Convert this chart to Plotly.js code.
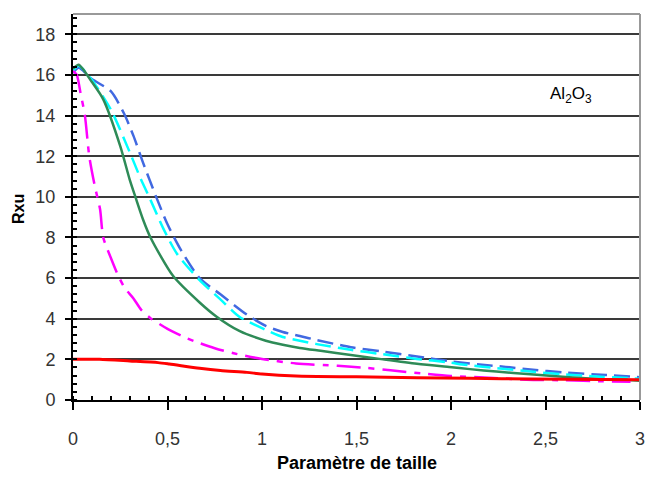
<!DOCTYPE html>
<html>
<head>
<meta charset="utf-8">
<script src="https://cdn.plot.ly/plotly-3.0.1.min.js"></script>
<style>html,body{margin:0;padding:0;background:#fff;}#chart{width:649px;height:477px;}</style>
</head>
<body>
<div id="chart"></div>
<script>
// Series data
const blueX = [0, 0.03, 0.1, 0.2, 0.27, 0.32, 0.37, 0.44, 0.5, 0.57, 0.67, 0.78, 0.92, 1.02, 1.11, 1.2, 1.29, 1.47, 1.64, 1.82, 2.0, 2.15, 2.29, 2.42, 2.59, 2.82, 3.0];
const blueY = [16.1, 16.35, 15.8, 15.2, 14.1, 13.0, 11.7, 10.0, 8.65, 7.4, 6.0, 5.2, 4.2, 3.65, 3.35, 3.15, 2.95, 2.6, 2.38, 2.14, 1.9, 1.75, 1.63, 1.5, 1.36, 1.23, 1.12];

const cyanX = [0, 0.03, 0.1, 0.2, 0.3, 0.36, 0.41, 0.48, 0.55, 0.67, 0.78, 0.88, 1.02, 1.11, 1.2, 1.29, 1.47, 1.64, 1.82, 1.99, 2.06, 2.24, 2.42, 2.59, 2.77, 3.0];
const cyanY = [16.2, 16.45, 15.75, 14.3, 12.2, 10.85, 9.85, 8.4, 7.2, 5.9, 4.95, 4.1, 3.45, 3.1, 2.92, 2.75, 2.47, 2.25, 2.02, 1.85, 1.75, 1.57, 1.4, 1.27, 1.16, 1.05];

const greenX = [0, 0.03, 0.1, 0.16, 0.25, 0.3, 0.33, 0.37, 0.41, 0.53, 0.67, 0.76, 0.88, 1.02, 1.11, 1.2, 1.31, 1.47, 1.64, 1.82, 1.99, 2.1, 2.24, 2.42, 2.59, 2.77, 3.0];
const greenY = [16.3, 16.5, 15.65, 14.8, 12.5, 10.85, 10.0, 8.9, 8.0, 6.1, 4.8, 4.1, 3.4, 2.92, 2.72, 2.56, 2.42, 2.22, 2.0, 1.78, 1.62, 1.52, 1.4, 1.27, 1.14, 1.03, 0.95];

const magentaX = [0, 0.02, 0.04, 0.063, 0.086, 0.116, 0.143, 0.16, 0.2, 0.24, 0.275, 0.32, 0.36, 0.41, 0.5, 0.6, 0.67, 0.75, 0.85, 1.0, 1.18, 1.4, 1.55, 1.68, 1.85, 2.0, 2.2, 2.4, 2.6, 2.8, 2.95];
const magentaY = [16.2, 16.0, 15.1, 14.0, 12.0, 10.5, 9.4, 8.0, 7.0, 6.1, 5.5, 5.0, 4.45, 4.03, 3.5, 3.05, 2.8, 2.55, 2.3, 2.02, 1.8, 1.68, 1.58, 1.46, 1.3, 1.18, 1.1, 1.0, 0.97, 0.92, 0.9];

const redX = [0, 0.14, 0.3, 0.45, 0.51, 0.67, 0.78, 0.92, 1.0, 1.18, 1.5, 1.82, 2.1, 2.42, 3.0];
const redY = [2.0, 2.0, 1.92, 1.84, 1.77, 1.56, 1.45, 1.36, 1.28, 1.18, 1.14, 1.1, 1.07, 1.03, 1.0];

const xTicks = [0, 0.5, 1, 1.5, 2, 2.5, 3];
const yTicks = [0, 2, 4, 6, 8, 10, 12, 14, 16, 18];
const xTitle = 'Paramètre de taille';
const yTitle = 'Rxu';
const label = 'Al<sub>2</sub>O<sub>3</sub>';

const tickFont = {family: 'Liberation Sans, Arial, sans-serif', size: 18, color: '#333'};
const sm = 0.7;

const traces = [
  {x: blueX, y: blueY, mode: 'lines', line: {color: '#4169E1', width: 2.5, dash: '16px,7px', shape: 'spline', smoothing: sm}},
  {x: cyanX, y: cyanY, mode: 'lines', line: {color: '#00FFFF', width: 2.5, dash: '16px,7px', shape: 'spline', smoothing: sm}},
  {x: greenX, y: greenY, mode: 'lines', line: {color: '#2E8B57', width: 2.5, shape: 'spline', smoothing: sm}},
  {x: magentaX, y: magentaY, mode: 'lines', line: {color: '#FF00FF', width: 2.5, dash: '24px,8px,6px,8px', shape: 'spline', smoothing: sm}},
  {x: redX, y: redY, mode: 'lines', line: {color: '#FF0000', width: 3, shape: 'spline', smoothing: sm}}
];

const layout = {
  width: 649, height: 477,
  margin: {l: 73, r: 9, t: 14, b: 77},
  paper_bgcolor: '#fff', plot_bgcolor: '#fff',
  showlegend: false,
  separators: ', ',
  xaxis: {
    range: [0, 3], tickvals: xTicks, showgrid: false, zeroline: false,
    showline: true, linecolor: '#000', linewidth: 2,
    ticks: 'outside', ticklen: 8, tickwidth: 2, tickcolor: '#000',
    minor: {dtick: 0.1, tick0: 0, ticks: 'inside', ticklen: 4, tickwidth: 2, tickcolor: '#000', showgrid: false},
    tickfont: tickFont, ticklabelstandoff: 13
  },
  yaxis: {
    range: [0, 19], tickvals: yTicks, showgrid: true, gridcolor: '#3a3a3a', gridwidth: 2, zeroline: false,
    showline: true, linecolor: '#000', linewidth: 2,
    ticks: 'outside', ticklen: 6, tickwidth: 2, tickcolor: '#000',
    minor: {dtick: 0.4, tick0: 0, ticks: 'inside', ticklen: 4, tickwidth: 2, tickcolor: '#000', showgrid: false},
    tickfont: tickFont, ticklabelstandoff: 6
  },
  shapes: [
    {type: 'line', xref: 'paper', yref: 'paper', x0: 0, x1: 1, y0: 1, y1: 1, line: {color: '#999', width: 2}},
    {type: 'line', xref: 'paper', yref: 'paper', x0: 1, x1: 1, y0: 0, y1: 1, line: {color: '#999', width: 2}}
  ],
  annotations: [
    {text: '<b>' + xTitle + '</b>', xref: 'paper', yref: 'paper', x: 0.5, y: -0.162, xanchor: 'center', yanchor: 'middle', showarrow: false,
     font: {family: 'Liberation Sans, Arial, sans-serif', size: 18, color: '#000'}},
    {text: '<b>' + yTitle + '</b>', xref: 'paper', yref: 'paper', x: -0.095, y: 0.495, xanchor: 'center', yanchor: 'middle', textangle: -90, showarrow: false,
     font: {family: 'Liberation Sans, Arial, sans-serif', size: 16, color: '#000'}},
    {text: label, xref: 'x', yref: 'y', x: 2.635, y: 15.0, xanchor: 'center', yanchor: 'middle', showarrow: false,
     font: {family: 'Liberation Sans, Arial, sans-serif', size: 17, color: '#000'}}
  ]
};

Plotly.newPlot('chart', traces, layout, {staticPlot: true, displayModeBar: false});
</script>
</body>
</html>
